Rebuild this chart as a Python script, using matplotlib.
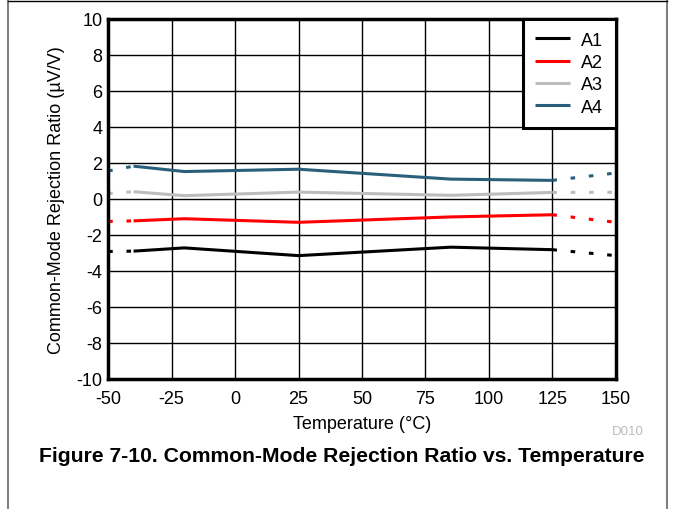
import matplotlib.pyplot as plt
from matplotlib.lines import Line2D

plt.rcParams["font.family"] = ["Liberation Sans", "DejaVu Sans"]
plt.rcParams["axes.unicode_minus"] = False

# measured temperatures (solid part of each curve)
temps = [-40, -20, 25, 85, 125]
# extrapolated ends (drawn broken)
temps_left = [-50, -40]
temps_right = [125, 150]

names = ["A1", "A2", "A3", "A4"]
colors = ["#000000", "#FF0000", "#BDBDBD", "#2A5F7C"]

a1 = [-2.9, -2.72, -3.15, -2.68, -2.82]
a2 = [-1.22, -1.1, -1.3, -1.0, -0.88]
a3 = [0.4, 0.18, 0.38, 0.2, 0.36]
a4 = [1.82, 1.52, 1.65, 1.1, 1.03]
series = [a1, a2, a3, a4]

left_ends = [-2.92, -1.25, 0.3, 1.55]
right_ends = [-3.15, -1.3, 0.37, 1.44]

x_ticks = [-50, -25, 0, 25, 50, 75, 100, 125, 150]
y_ticks = list(range(-10, 11, 2))


def main():
    fig = plt.figure(figsize=(6.76, 5.10), dpi=100)
    ax = fig.add_axes([0.16, 0.255, 0.751, 0.706])

    broken = (0, (1.5, 4.5))
    for name, color, ys, yl, yr in zip(names, colors, series, left_ends, right_ends):
        ax.plot(temps, ys, color=color, lw=2.2, label=name, solid_capstyle="butt")
        ax.plot(temps_left, [yl, ys[0]], color=color, lw=2.2, linestyle=broken)
        ax.plot(temps_right, [ys[-1], yr], color=color, lw=2.2, linestyle=broken)

    ax.set_xlim(-50, 150)
    ax.set_ylim(-10, 10)
    ax.set_xticks(x_ticks)
    ax.set_yticks(y_ticks)
    ax.tick_params(length=0, labelsize=13)
    ax.tick_params(axis="x", pad=8)
    ax.tick_params(axis="y", pad=4)
    ax.grid(True, color="black", lw=1)
    ax.set_axisbelow(True)
    for sp in ax.spines.values():
        sp.set_linewidth(2.5)

    ax.set_xlabel("Temperature (\u00b0C)", fontsize=13, labelpad=6)
    ax.set_ylabel("Common-Mode Rejection Ratio (\u00b5V/V)", fontsize=13, labelpad=8)

    leg = ax.legend(loc="upper right", fontsize=13, frameon=True, fancybox=False,
                    framealpha=1, edgecolor="black", borderaxespad=0,
                    handlelength=1.95, handletextpad=0.6, borderpad=0.7,
                    labelspacing=0.3)
    leg.get_frame().set_linewidth(2.2)

    fig.text(0.953, 0.153, "D010", color="#BBBBBB", fontsize=9.5, ha="right", va="center")
    fig.text(0.505, 0.105, "Figure 7-10. Common-Mode Rejection Ratio vs. Temperature",
             fontsize=15.2, fontweight="bold", ha="center", va="center")

    # page frame
    frame = dict(color="#808080", lw=1.5, transform=fig.transFigure)
    fig.add_artist(Line2D([0.012, 0.012], [0, 0.996], **frame))
    fig.add_artist(Line2D([0.987, 0.987], [0, 0.996], **frame))
    fig.add_artist(Line2D([0.012, 0.987], [0.996, 0.996], color="black", lw=1,
                          transform=fig.transFigure))

    fig.savefig("out.png", dpi=100)


if __name__ == "__main__":
    main()
